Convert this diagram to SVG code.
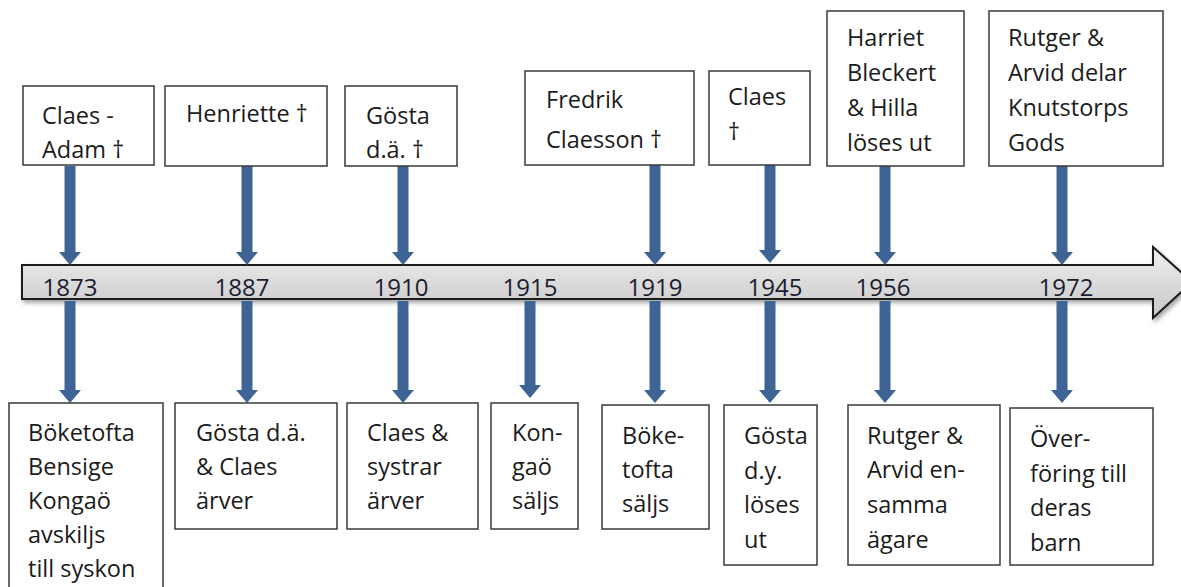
<svg xmlns="http://www.w3.org/2000/svg" width="1181" height="587" viewBox="0 0 1181 587">
<style>
.box{fill:#fff;stroke:#3a3a3a;stroke-width:1.5}
.t{font-family:"Open Sans","Liberation Sans",sans-serif;font-size:23.5px;fill:#1b1b1b}
.yr{font-family:"Open Sans","Liberation Sans",sans-serif;font-size:24px;fill:#1c1c30;text-anchor:middle}
.arr{stroke:#3d6494;stroke-width:11;fill:none;marker-end:url(#ah)}
</style>
<defs>
<marker id="ah" markerUnits="userSpaceOnUse" markerWidth="13" markerHeight="22" viewBox="0 0 13 22" refX="0" refY="11" orient="auto">
<path d="M0,0 L13,11 L0,22 z" fill="#3d6494"/>
</marker>
<linearGradient id="tg" x1="0" y1="0" x2="0" y2="1">
<stop offset="0" stop-color="#f0f0f0"/>
<stop offset="1" stop-color="#c6c6c6"/>
</linearGradient>
<filter id="sh" x="-5%" y="-20%" width="110%" height="150%">
<feDropShadow dx="2" dy="3" stdDeviation="2" flood-color="#000" flood-opacity="0.35"/>
</filter>
</defs>
<g id="timeline">
<polygon points="22,265 1153,265 1153,247 1192,282 1153,318 1153,299 22,299" fill="url(#tg)" stroke="#1a1a1a" stroke-width="2" filter="url(#sh)"/>
<text class="yr" x="70" y="296">1873</text>
<text class="yr" x="242" y="296">1887</text>
<text class="yr" x="401" y="296">1910</text>
<text class="yr" x="530" y="296">1915</text>
<text class="yr" x="655" y="296">1919</text>
<text class="yr" x="775" y="296">1945</text>
<text class="yr" x="883" y="296">1956</text>
<text class="yr" x="1066" y="296">1972</text>
</g>
<g id="connectors">
<line class="arr" x1="70" y1="166" x2="70" y2="252"/>
<line class="arr" x1="247" y1="166" x2="247" y2="252"/>
<line class="arr" x1="403" y1="166" x2="403" y2="252"/>
<line class="arr" x1="655" y1="165" x2="655" y2="252"/>
<line class="arr" x1="770" y1="165" x2="770" y2="250"/>
<line class="arr" x1="885" y1="166" x2="885" y2="252"/>
<line class="arr" x1="1062" y1="166" x2="1062" y2="252"/>
<line class="arr" x1="70" y1="301" x2="70" y2="390"/>
<line class="arr" x1="247" y1="301" x2="247" y2="390"/>
<line class="arr" x1="403" y1="301" x2="403" y2="390"/>
<line class="arr" x1="530" y1="301" x2="530" y2="385"/>
<line class="arr" x1="655" y1="301" x2="655" y2="390"/>
<line class="arr" x1="770" y1="301" x2="770" y2="390"/>
<line class="arr" x1="885" y1="301" x2="885" y2="390"/>
<line class="arr" x1="1062" y1="301" x2="1062" y2="390"/>
</g>
<g id="n1873top"><rect class="box" x="23" y="86" width="131" height="79"/>
<text class="t" x="42" y="124">Claes -</text><text class="t" x="42" y="158">Adam †</text></g>
<g id="n1887top"><rect class="box" x="165" y="86" width="162" height="80"/>
<text class="t" x="186" y="122">Henriette †</text></g>
<g id="n1910top"><rect class="box" x="345" y="86" width="112" height="80"/>
<text class="t" x="366" y="124">Gösta</text><text class="t" x="366" y="158">d.ä. †</text></g>
<g id="n1919top"><rect class="box" x="525" y="71" width="169" height="94"/>
<text class="t" x="546" y="108">Fredrik</text><text class="t" x="546" y="148">Claesson †</text></g>
<g id="n1945top"><rect class="box" x="709" y="71" width="101" height="94"/>
<text class="t" x="728" y="105">Claes</text><text class="t" x="728" y="140">†</text></g>
<g id="n1956top"><rect class="box" x="827" y="11" width="137" height="155"/>
<text class="t" x="847" y="46">Harriet</text><text class="t" x="847" y="81">Bleckert</text><text class="t" x="847" y="116">&amp; Hilla</text><text class="t" x="847" y="151">löses ut</text></g>
<g id="n1972top"><rect class="box" x="989" y="11" width="174" height="155"/>
<text class="t" x="1008" y="46">Rutger &amp;</text><text class="t" x="1008" y="81">Arvid delar</text><text class="t" x="1008" y="116">Knutstorps</text><text class="t" x="1008" y="151">Gods</text></g>
<g id="n1873bot"><rect class="box" x="9" y="403" width="154" height="190"/>
<text class="t" x="28" y="441">Böketofta</text><text class="t" x="28" y="475">Bensige</text><text class="t" x="28" y="509">Kongaö</text><text class="t" x="28" y="543">avskiljs</text><text class="t" x="28" y="577">till syskon</text></g>
<g id="n1887bot"><rect class="box" x="175" y="403" width="162" height="126"/>
<text class="t" x="196" y="441">Gösta d.ä.</text><text class="t" x="196" y="475">&amp; Claes</text><text class="t" x="196" y="509">ärver</text></g>
<g id="n1910bot"><rect class="box" x="347" y="403" width="131" height="126"/>
<text class="t" x="367" y="441">Claes &amp;</text><text class="t" x="367" y="475">systrar</text><text class="t" x="367" y="509">ärver</text></g>
<g id="n1915bot"><rect class="box" x="491" y="403" width="87" height="126"/>
<text class="t" x="512" y="441">Kon-</text><text class="t" x="512" y="475">gaö</text><text class="t" x="512" y="509">säljs</text></g>
<g id="n1919bot"><rect class="box" x="602" y="405" width="107" height="124"/>
<text class="t" x="622" y="444">Böke-</text><text class="t" x="622" y="478">tofta</text><text class="t" x="622" y="512">säljs</text></g>
<g id="n1945bot"><rect class="box" x="724" y="405" width="93" height="160"/>
<text class="t" x="744" y="444">Gösta</text><text class="t" x="744" y="479">d.y.</text><text class="t" x="744" y="513">löses</text><text class="t" x="744" y="548">ut</text></g>
<g id="n1956bot"><rect class="box" x="848" y="405" width="152" height="160"/>
<text class="t" x="867" y="444">Rutger &amp;</text><text class="t" x="867" y="478">Arvid en-</text><text class="t" x="867" y="513">samma</text><text class="t" x="867" y="548">ägare</text></g>
<g id="n1972bot"><rect class="box" x="1010" y="408" width="143" height="157"/>
<text class="t" x="1030" y="447">Över-</text><text class="t" x="1030" y="482">föring till</text><text class="t" x="1030" y="516">deras</text><text class="t" x="1030" y="551">barn</text></g>
</svg>
